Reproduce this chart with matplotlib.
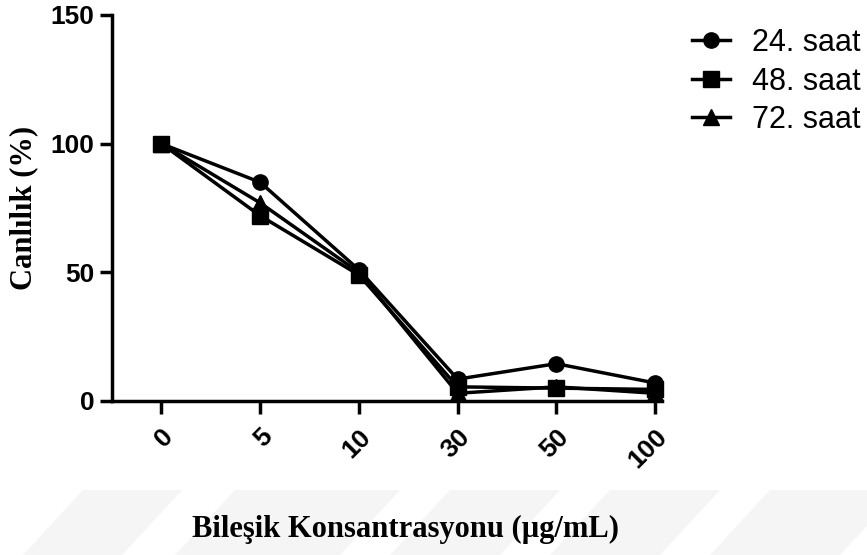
import matplotlib
matplotlib.use("Agg")
import matplotlib.pyplot as plt
from matplotlib.patches import Polygon

categories = ["0", "5", "10", "30", "50", "100"]
saat24 = [100, 85, 51, 8.5, 14.5, 7]
saat48 = [100, 72, 49, 5.5, 5.0, 4.5]
saat72 = [100, 77, 50, 3.0, 5.5, 3.0]
series_labels = ["24. saat", "48. saat", "72. saat"]
y_ticks = [0, 50, 100, 150]

W, H = 867, 555
fig = plt.figure(figsize=(W/100, H/100), dpi=100)

# faint watermark bands at the bottom
for x0, x1 in [(83, 182), (235, 400), (450, 560), (610, 720), (770, 900)]:
    top, bot = 490, 555
    shift = 60
    pts = [(x0/W, 1-top/H), (x1/W, 1-top/H), ((x1-shift)/W, 1-bot/H), ((x0-shift)/W, 1-bot/H)]
    fig.patches.append(Polygon(pts, closed=True, transform=fig.transFigure,
                               facecolor="#f5f5f5", edgecolor="none", zorder=0))

ax = fig.add_axes([112/W, 1-401/H, (662-112)/W, (401-15)/H])
ax.patch.set_alpha(0)

x = list(range(len(categories)))
for vals, mk, lab in zip([saat24, saat48, saat72], ["o", "s", "^"], series_labels):
    ax.plot(x, vals, color="black", lw=2.5, marker=mk, markersize=11, label=lab, clip_on=False)

ax.set_xlim(-0.5, 5.07)
ax.set_ylim(0, 150)
ax.set_yticks(y_ticks)
ax.set_xticks(x)
ax.set_xticklabels(categories, rotation=45, ha="right", rotation_mode="anchor")
for side in ["top", "right"]:
    ax.spines[side].set_visible(False)
for side in ["left", "bottom"]:
    ax.spines[side].set_linewidth(2.5)
ax.tick_params(width=2.5, length=9, labelsize=19, direction="out")
ax.tick_params(axis="x", pad=8)
for lab in ax.get_xticklabels() + ax.get_yticklabels():
    lab.set_fontfamily("Liberation Sans")
    lab.set_fontweight("bold")

fig.text(24/W, 1-208/H, "Canlılık (%)", rotation=90, ha="center", va="center",
         fontfamily="Liberation Serif", fontweight="bold", fontsize=22)
fig.text(405/W, 1-529/H, "Bileşik Konsantrasyonu (µg/mL)", ha="center", va="center",
         fontfamily="Liberation Serif", fontweight="bold", fontsize=22)

leg = ax.legend(loc="upper left", bbox_to_anchor=(692/W, 1-28/H), bbox_transform=fig.transFigure,
                frameon=False, prop={"family": "Liberation Sans", "size": 22},
                handlelength=1.25, handletextpad=0.7, labelspacing=0.28, borderpad=0,
                borderaxespad=0)

fig.savefig("out.png", dpi=100)
